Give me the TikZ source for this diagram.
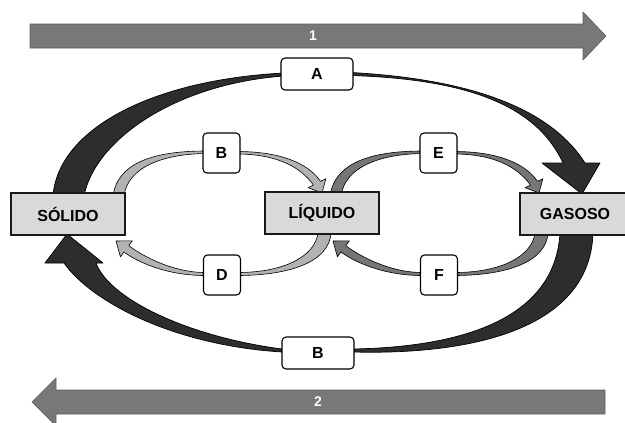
\documentclass[tikz,border=0pt]{standalone}
\usepackage{fontspec}
\setmainfont{Liberation Sans}

\definecolor{bandgray}{HTML}{787878}
\definecolor{bandedge}{HTML}{5E5E5E}
\definecolor{arcdark}{HTML}{2D2D2D}
\definecolor{looplight}{HTML}{B2B2B2}
\definecolor{loopdark}{HTML}{767676}
\definecolor{statefill}{HTML}{D9D9D9}

\tikzset{
  flowband/.style={fill=bandgray, draw=bandedge, line width=0.6pt},
  bandtext/.style={text=white, font=\bfseries\fontsize{14}{16}\selectfont},
  bigarc/.style={fill=arcdark, draw=black, line width=0.7pt, line join=round},
  lightloop/.style={fill=looplight, draw=black, line width=0.6pt, line join=round},
  darkloop/.style={fill=loopdark, draw=black, line width=0.6pt, line join=round},
  statebox/.style={rectangle, fill=statefill, draw=black!90, line width=1.3pt,
    minimum height=42pt, inner sep=0pt, font=\bfseries\fontsize{16}{18}\selectfont},
  tagbox/.style={rectangle, rounded corners=4pt, fill=white, draw=black, line width=1.1pt,
    inner sep=0pt, font=\bfseries\fontsize{16}{18}\selectfont},
  widetag/.style={tagbox, minimum width=72pt, minimum height=32pt},
  smalltag/.style={tagbox, minimum width=37pt, minimum height=40pt},
}

% one pair of tapered loop arrows (upper one to the right, lower one to the left)
\newcommand\drawloop[1]{%
  % upper tail, from the left box up to the top label
  \filldraw[#1] (113,196) .. controls (118,160) and (160,151) .. (206,151)
    -- (206,153.5) .. controls (165,154) and (128,166) .. (124,196) -- cycle;
  % upper head, from the top label down onto the right box
  \filldraw[#1] (237,151.5) .. controls (280,151.5) and (308,163) .. (320.6,181.4)
    -- (325.9,178.7) -- (322,193) -- (308.1,187.7) -- (313.4,185)
    .. controls (300,166) and (275,154) .. (237,154) -- cycle;
  % lower tail, from the right box down to the bottom label
  \filldraw[#1] (318,233) .. controls (315,256) and (285,272) .. (240,272.5)
    -- (240,275.5) .. controls (290,275) and (329,262) .. (331,233) -- cycle;
  % lower head, from the bottom label up onto the left box
  \filldraw[#1] (205,272.5) .. controls (170,272.5) and (138,253) .. (128.8,245.6)
    -- (132.4,240.8) -- (116,241) -- (120.4,256.8) -- (124,252)
    .. controls (136,261) and (165,275.5) .. (205,275.5) -- cycle;
}

\begin{document}
\begin{tikzpicture}[x=1pt,y=-1pt]
\useasboundingbox (0,0) rectangle (625,423);

% direction bands
\filldraw[flowband] (30,24) -- (583,24) -- (583,12) -- (606,36) -- (583,60)
  -- (583,48) -- (30,48) -- cycle;
\node[bandtext] (one) at (313,36) {1};
\filldraw[flowband] (605,390) -- (56,390) -- (56,378) -- (32,402) -- (56,426)
  -- (56,414) -- (605,414) -- cycle;
\node[bandtext] (two) at (318,402) {2};

% outer arc, upper half: solid to gas
\filldraw[bigarc] (53,196) .. controls (58,130) and (150,80) .. (284,73)
  -- (284,76) .. controls (175,84) and (95,140) .. (84,196) -- cycle;
\filldraw[bigarc] (351,72.5) .. controls (450,78) and (545,100) .. (585,163)
  -- (600,163) -- (582,194) -- (542,163) -- (563,163)
  .. controls (535,102) and (460,79) .. (351,75.5) -- cycle;

% outer arc, lower half: gas to solid
\filldraw[bigarc] (593,233) .. controls (590,330) and (470,355) .. (353,352)
  -- (353,349) .. controls (460,347) and (555,320) .. (560,233) -- cycle;
\filldraw[bigarc] (282,352) .. controls (170,345) and (90,300) .. (64,263)
  -- (45,263) -- (67,234) -- (103,263) -- (96,263)
  .. controls (110,300) and (190,337) .. (282,349) -- cycle;

% inner loops
\drawloop{lightloop}
\begin{scope}[xshift=217pt]
  \drawloop{darkloop}
\end{scope}

% states
\node[statebox, minimum width=114pt] (solido) at (68,214) {SÓLIDO};
\node[statebox, minimum width=114pt] (liquido) at (322,213) {LÍQUIDO};
\node[statebox, minimum width=110pt] (gasoso) at (575,214) {GASOSO};

% transition labels
\node[widetag] (a) at (317,74) {A};
\node[widetag] (bout) at (318,353) {B};
\node[smalltag] (bin) at (221.5,153) {B};
\node[smalltag] (d) at (222,275) {D};
\node[smalltag] (e) at (438.5,153) {E};
\node[smalltag] (f) at (439,275) {F};
\end{tikzpicture}
\end{document}
